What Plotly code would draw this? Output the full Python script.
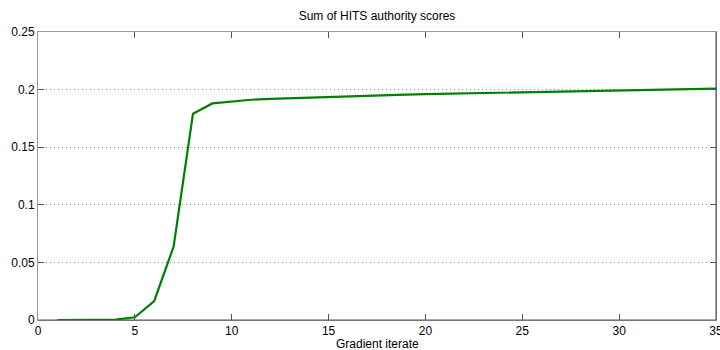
import plotly.graph_objects as go

# Gradient iterations and the summed HITS authority score at each one
iterations = list(range(1, 36))
authority_sum = [
    0.0, 0.0, 0.0, 0.0003, 0.0024, 0.0165, 0.0637, 0.1790, 0.1880, 0.1898,
    0.1912, 0.1920, 0.1926, 0.1931, 0.1935, 0.1940, 0.1946, 0.1951, 0.1956, 0.1961,
    0.1964, 0.1967, 0.1970, 0.1973, 0.1976, 0.1979, 0.1982, 0.1985, 0.1988, 0.1992,
    0.1995, 0.1998, 0.2002, 0.2005, 0.2008,
]
x_ticks = [0, 5, 10, 15, 20, 25, 30, 35]
y_ticks = [0, 0.05, 0.1, 0.15, 0.2, 0.25]
y_tick_text = ["0", "0.05", "0.1", "0.15", "0.2", "0.25"]

font = dict(family="Liberation Sans, Arial, sans-serif", size=12, color="black")

fig = go.Figure()
fig.add_trace(go.Scatter(
    x=iterations, y=authority_sum, mode="lines",
    line=dict(color="#008000", width=2.2),
    showlegend=False, hoverinfo="skip",
))

axis_common = dict(
    showline=True, linecolor="#999999", linewidth=1, mirror="ticks",
    ticks="inside", ticklen=6, tickcolor="#555555", tickwidth=1,
    tickfont=font, zeroline=False, automargin=False,
)

fig.update_layout(
    width=720, height=350,
    margin=dict(l=38, r=4, t=32, b=30),
    paper_bgcolor="white", plot_bgcolor="white",
    font=font,
    title=dict(text="Sum of HITS authority scores", x=0.5, xref="paper",
               y=1, yref="container", yanchor="top", pad=dict(t=12),
               font=dict(family=font["family"], size=12, color="black")),
    xaxis=dict(range=[0, 35], tickvals=x_ticks, showgrid=False,
               ticklabeloverflow="allow",
               **axis_common),
    yaxis=dict(range=[0, 0.25], tickvals=y_ticks, ticktext=y_tick_text,
               showgrid=True, gridcolor="#8a8a8a", griddash="1px,3px", gridwidth=1,
               **axis_common),
    shapes=[
        # darker right and bottom frame edges
        dict(type="line", xref="paper", yref="paper", x0=1, x1=1, y0=0, y1=1,
             line=dict(color="#444444", width=1)),
        dict(type="line", xref="paper", yref="paper", x0=0, x1=1, y0=0, y1=0,
             line=dict(color="#555555", width=1)),
    ],
    annotations=[
        # x-axis title placed just under the tick labels
        dict(text="Gradient iterate", xref="paper", yref="paper", x=0.5, y=0,
             xanchor="center", yanchor="top", yshift=-15, showarrow=False,
             font=dict(family=font["family"], size=12, color="black")),
    ],
)

fig.write_html("out.html")
